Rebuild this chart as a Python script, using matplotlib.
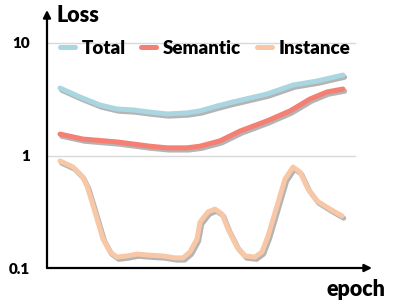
import matplotlib
matplotlib.use("Agg")
import matplotlib.pyplot as plt
import matplotlib.patheffects as pe

plt.rcParams['font.family'] = ['Lato', 'DejaVu Sans']
plt.rcParams['font.weight'] = 'heavy'

# epoch positions (arbitrary units) and loss values
total_x = [0, 20, 40, 57, 73, 90, 107, 127, 140, 157, 173, 207, 233, 257, 283]
total_y = [3.98, 3.31, 2.81, 2.59, 2.54, 2.43, 2.34, 2.39, 2.49, 2.75, 2.99, 3.52, 4.23, 4.59, 5.19]

sem_x = [0, 23, 57, 90, 107, 127, 140, 160, 180, 207, 230, 250, 267, 283]
sem_y = [1.55, 1.40, 1.32, 1.21, 1.17, 1.17, 1.21, 1.35, 1.65, 2.03, 2.49, 3.18, 3.67, 3.90]

inst_x = [0, 13, 22, 27, 32, 37, 43, 50, 57, 67, 77, 90, 103, 115, 123, 130, 137,
          140, 148, 155, 162, 168, 177, 185, 195, 202, 208, 217, 225, 233, 240, 248,
          257, 270, 282]
inst_y = [0.894, 0.790, 0.657, 0.536, 0.386, 0.273, 0.181, 0.139, 0.125, 0.128, 0.133,
          0.130, 0.128, 0.123, 0.123, 0.139, 0.181, 0.256, 0.315, 0.334, 0.302, 0.222,
          0.154, 0.128, 0.125, 0.139, 0.192, 0.356, 0.618, 0.790, 0.713, 0.504, 0.394,
          0.334, 0.290]

labels = ['Total', 'Semantic', 'Instance']
colors = ['#a9d6e0', '#f47f72', '#f8c8a6']
yticks = [0.1, 1, 10]
ytick_labels = ['0.1', '1', '10']

fig = plt.figure(figsize=(3.99, 3.08), dpi=100)
ax = fig.add_axes([47/399, 40/308, 325/399, 258/308])
ax.set_yscale('log')
ax.set_xlim(-13, 312)
ax.set_ylim(0.1, 10 ** (-1 + 258/112.5))

for v in [1, 10]:
    ax.axhline(v, xmin=0, xmax=(355-47)/325, color='#d9d9d9', lw=1, zorder=1)

shadow = [pe.SimpleLineShadow(offset=(1.2, -1.6), shadow_color='#444444', alpha=0.4),
          pe.Normal()]
for xs, ys, lab, c in zip([total_x, sem_x, inst_x], [total_y, sem_y, inst_y], labels, colors):
    ax.plot(xs, ys, color=c, lw=3.6, label=lab, solid_joinstyle='round',
            solid_capstyle='round', path_effects=shadow, zorder=3)

for s in ax.spines.values():
    s.set_visible(False)
ax.annotate('', xy=(0, 1.0), xytext=(0, 0), xycoords='axes fraction',
            arrowprops=dict(arrowstyle='-|>', lw=1.6, color='black', mutation_scale=11,
                            shrinkA=0, shrinkB=0))
ax.annotate('', xy=(1.0, 0), xytext=(0, 0), xycoords='axes fraction',
            arrowprops=dict(arrowstyle='-|>', lw=1.6, color='black', mutation_scale=11,
                            shrinkA=0, shrinkB=0))

ax.set_xticks([])
ax.set_yticks(yticks)
ax.set_yticklabels(ytick_labels, fontsize=11, fontweight='heavy')
ax.yaxis.set_minor_locator(matplotlib.ticker.NullLocator())
ax.tick_params(axis='y', length=0, pad=12)

fig.text(56/399, 1 - 15/308, 'Loss', fontsize=15.5, fontweight='heavy', ha='left', va='center')
fig.text(356/399, 1 - 289/308, 'epoch', fontsize=15.5, fontweight='heavy', ha='center', va='center')

leg = ax.legend(loc='center', bbox_to_anchor=(205/399, 1 - 48/308), bbox_transform=fig.transFigure,
                ncol=3, frameon=False, prop={'size': 13.5, 'weight': 'heavy'},
                handlelength=0.8, handletextpad=0.35, columnspacing=0.85, borderpad=0)
for h in leg.get_lines():
    h.set_linewidth(3.6)
    h.set_path_effects([])

fig.savefig('out.png', dpi=100)
